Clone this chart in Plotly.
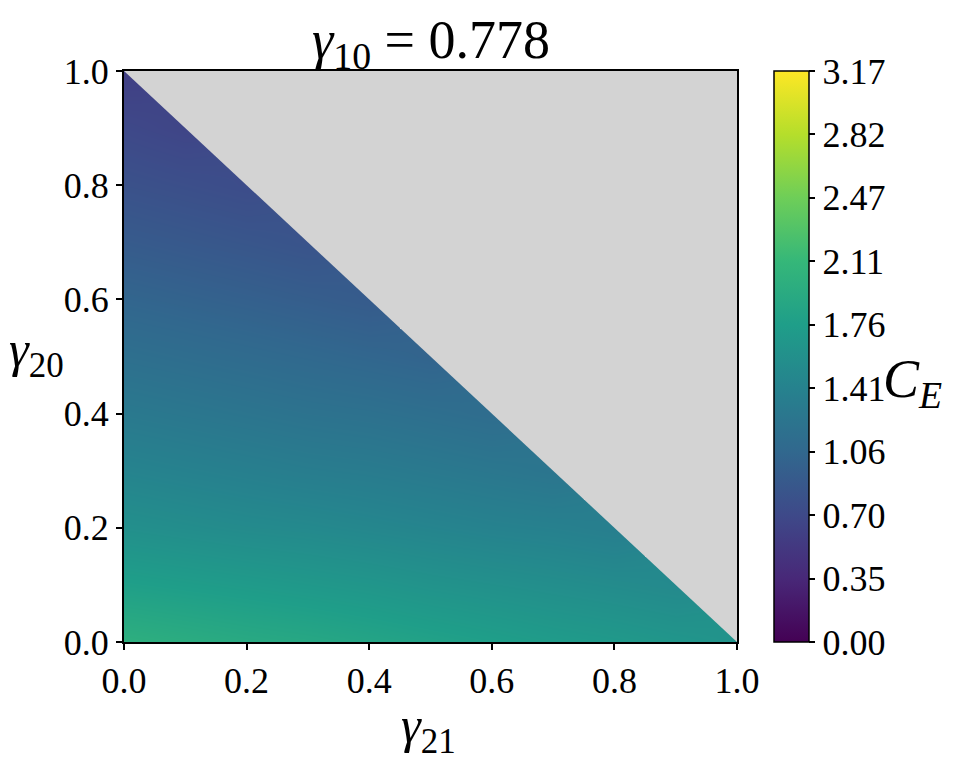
import plotly.graph_objects as go

# Grid coordinates
g21 = [0.0, 0.1, 0.2, 0.3, 0.4, 0.5, 0.6, 0.7, 0.8, 0.9, 1.0]
g20 = [0.0, 0.1, 0.2, 0.3, 0.4, 0.5, 0.6, 0.7, 0.8, 0.9, 1.0]

# C_E values (rows = gamma20, cols = gamma21), only where gamma21 + gamma20 <= 1
N = None
C_E = [
    [2.00, 1.96, 1.92, 1.89, 1.85, 1.81, 1.77, 1.73, 1.70, 1.66, 1.62],
    [1.78, 1.75, 1.72, 1.69, 1.66, 1.62, 1.59, 1.56, 1.53, 1.50, N],
    [1.58, 1.55, 1.52, 1.50, 1.47, 1.44, 1.41, 1.39, 1.36, N, N],
    [1.43, 1.40, 1.37, 1.34, 1.32, 1.29, 1.26, 1.23, N, N, N],
    [1.29, 1.26, 1.23, 1.20, 1.18, 1.15, 1.12, N, N, N, N],
    [1.16, 1.13, 1.10, 1.07, 1.04, 1.01, N, N, N, N, N],
    [1.03, 1.00, 0.97, 0.94, 0.91, N, N, N, N, N, N],
    [0.91, 0.88, 0.85, 0.82, N, N, N, N, N, N, N],
    [0.80, 0.77, 0.74, N, N, N, N, N, N, N, N],
    [0.70, 0.66, N, N, N, N, N, N, N, N, N],
    [0.60, N, N, N, N, N, N, N, N, N, N],
]

axis_ticks = [0.0, 0.2, 0.4, 0.6, 0.8, 1.0]
axis_ticktext = ["0.0", "0.2", "0.4", "0.6", "0.8", "1.0"]
cbar_tickvals = [0.0, 0.352, 0.704, 1.057, 1.409, 1.761, 2.113, 2.466, 2.818, 3.17]
cbar_ticktext = ["0.00", "0.35", "0.70", "1.06", "1.41", "1.76", "2.11", "2.47", "2.82", "3.17"]
zmin, zmax = 0.0, 3.17

FONT = "Liberation Serif"

fig = go.Figure()
fig.add_trace(go.Heatmap(
    x=g21, y=g20, z=C_E, zmin=zmin, zmax=zmax,
    colorscale="Viridis", zsmooth="best", hoverongaps=False,
    colorbar=dict(
        x=1.06, xanchor="left", xpad=0, ypad=0,
        y=0.5, yanchor="middle", len=1.0, lenmode="fraction",
        thickness=35, outlinewidth=1.5, outlinecolor="black",
        tickvals=cbar_tickvals, ticktext=cbar_ticktext,
        ticks="outside", ticklen=6, tickwidth=1.5, tickcolor="black",
        tickfont=dict(family=FONT, size=36, color="black"),
    ),
))

# Infeasible region (gamma21 + gamma20 > 1) shown in light grey
fig.add_trace(go.Scatter(
    x=[g21[0], g21[-1], g21[-1], g21[0]],
    y=[g20[-1], g20[-1], g20[0], g20[-1]],
    mode="lines", fill="toself", fillcolor="#d3d3d3",
    line=dict(width=0), hoverinfo="skip", showlegend=False,
))

axis_common = dict(
    range=[0, 1], tickvals=axis_ticks, ticktext=axis_ticktext,
    ticks="outside", ticklen=6, tickwidth=1.5, tickcolor="black",
    showline=True, linecolor="black", linewidth=2, mirror=True,
    showgrid=False, zeroline=False,
    tickfont=dict(family=FONT, size=36, color="black"),
)
fig.update_xaxes(**axis_common)
fig.update_yaxes(**axis_common)

fig.update_layout(
    width=955, height=764,
    margin=dict(l=116, r=226, t=63, b=130),
    plot_bgcolor="#d3d3d3", paper_bgcolor="white",
    annotations=[
        dict(text="<i>γ</i><sub>10</sub> = 0.778", xref="paper", yref="paper",
             x=0.5, y=1.049, xanchor="center", yanchor="middle", showarrow=False,
             font=dict(family=FONT, size=54, color="black")),
        dict(text="<i>γ</i><sub>21</sub>", xref="paper", yref="paper",
             x=0.497, y=-0.152, xanchor="center", yanchor="middle", showarrow=False,
             font=dict(family=FONT, size=50, color="black")),
        dict(text="<i>γ</i><sub>20</sub>", xref="paper", yref="paper",
             x=-0.1435, y=0.506, xanchor="center", yanchor="middle", showarrow=False,
             font=dict(family=FONT, size=50, color="black")),
        dict(text="<i>C</i><sub><i>E</i></sub>", xref="paper", yref="paper",
             x=1.287, y=0.454, xanchor="center", yanchor="middle", showarrow=False,
             font=dict(family=FONT, size=54, color="black")),
    ],
)

fig.write_html("out.html")
